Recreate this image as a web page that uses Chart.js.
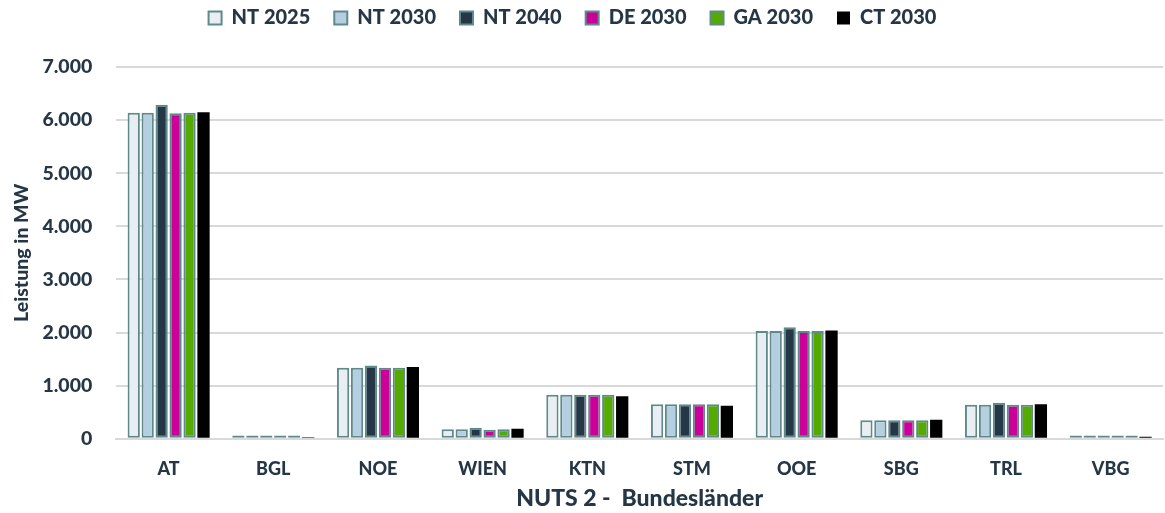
<!DOCTYPE html>
<html>
<head>
<meta charset="utf-8">
<script src="https://cdn.jsdelivr.net/npm/chart.js@4"></script>
<style>
  html, body { margin: 0; padding: 0; background: #fff; }
  #wrap { width: 1165px; height: 513px; }
</style>
</head>
<body>
<div id="wrap"><canvas id="chart"></canvas></div>
<script>
// Regions (NUTS 2) and installed capacity per scenario, MW
const regions = ['AT', 'BGL', 'NOE', 'WIEN', 'KTN', 'STM', 'OOE', 'SBG', 'TRL', 'VBG'];
const scenarios = ['NT 2025', 'NT 2030', 'NT 2040', 'DE 2030', 'GA 2030', 'CT 2030'];

const nt2025 = [6140, 60, 1340, 180, 830, 650, 2030, 350, 640, 60];
const nt2030 = [6140, 60, 1340, 180, 830, 650, 2030, 350, 640, 60];
const nt2040 = [6290, 60, 1380, 210, 830, 650, 2100, 350, 680, 60];
const de2030 = [6130, 60, 1340, 170, 830, 650, 2030, 350, 640, 60];
const ga2030 = [6140, 60, 1340, 180, 830, 650, 2030, 350, 640, 60];
const ct2030 = [6150, 30, 1350, 190, 800, 620, 2040, 360, 650, 40];

const yTicks = [0, 1000, 2000, 3000, 4000, 5000, 6000, 7000];

const seriesValues = [nt2025, nt2030, nt2040, de2030, ga2030, ct2030];
const fills = ['#e8eef1', '#b5cee0', '#253746', '#cc0099', '#55aa00', '#000000'];
const outline = '#5f8a8b';
const textColor = '#253746';
const fontFamily = 'Lato, "Open Sans", sans-serif';

function formatDe(v) {
  return String(v).replace(/\B(?=(\d{3})+(?!\d))/g, '.');
}

const datasets = scenarios.map((name, i) => ({
  label: name,
  data: seriesValues[i],
  backgroundColor: fills[i],
  borderColor: i === 5 ? '#000000' : outline,
  borderWidth: i === 5 ? 0 : 2,
  borderSkipped: false,
  categoryPercentage: 0.8,
  barPercentage: 0.88
}));

// extra room below the legend, and legend row nudged a bit to the left
const legendGap = {
  id: 'legendGap',
  beforeInit(chart) {
    const fit = chart.legend.fit;
    chart.legend.fit = function () {
      fit.bind(chart.legend)();
      this.height += 29;
    };
  },
  afterLayout(chart) {
    chart.legend.left -= 14;
    chart.legend.right -= 14;
  }
};

new Chart(document.getElementById('chart'), {
  type: 'bar',
  data: { labels: regions, datasets: datasets },
  plugins: [legendGap],
  options: {
    responsive: true,
    maintainAspectRatio: false,
    animation: false,
    layout: { padding: { top: -16, right: 2, bottom: 1, left: 10 } },
    plugins: {
      legend: {
        position: 'top',
        labels: {
          color: textColor,
          boxWidth: 13,
          boxHeight: 13,
          padding: 24,
          font: { family: fontFamily, size: 20, weight: 900 }
        }
      },
      tooltip: { enabled: false }
    },
    scales: {
      x: {
        grid: { display: false },
        border: { color: '#d9d9d9', width: 2 },
        ticks: {
          color: textColor,
          padding: 12,
          font: { family: fontFamily, size: 18, weight: 900 }
        },
        title: {
          display: true,
          text: 'NUTS 2 -  Bundesländer',
          color: textColor,
          padding: { top: -8, bottom: 0 },
          font: { family: fontFamily, size: 23, weight: 900 }
        }
      },
      y: {
        min: 0,
        max: 7000,
        afterBuildTicks: axis => { axis.ticks = yTicks.map(v => ({ value: v })); },
        grid: {
          color: '#d9d9d9',
          lineWidth: 2,
          drawTicks: false
        },
        border: { display: false },
        ticks: {
          color: textColor,
          padding: 24,
          font: { family: fontFamily, size: 19.5, weight: 900 },
          callback: v => formatDe(v)
        },
        title: {
          display: true,
          text: 'Leistung in MW',
          color: textColor,
          padding: { top: 0, bottom: -15 },
          font: { family: fontFamily, size: 19.5, weight: 900 }
        }
      }
    }
  }
});
</script>
</body>
</html>
